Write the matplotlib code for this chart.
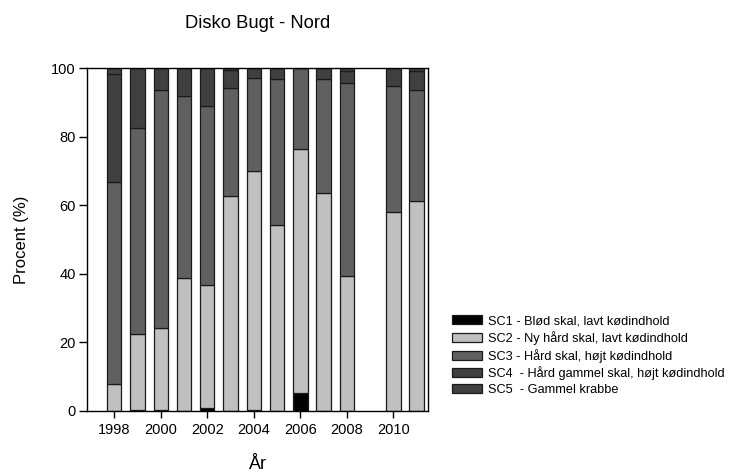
import matplotlib
matplotlib.use("Agg")
import matplotlib.pyplot as plt
import numpy as np

plt.rcParams['font.family'] = ['Liberation Sans', 'DejaVu Sans']

years = [1998, 1999, 2000, 2001, 2002, 2003, 2004, 2005, 2006, 2007, 2008, 2010, 2011]
sc1 = [0.0, 0.3, 0.3, 0.0, 0.9, 0.0, 0.3, 0.0, 5.3, 0.0, 0.0, 0.0, 0.0]
sc2 = [7.8, 22.1, 23.9, 38.9, 35.9, 62.8, 69.8, 54.2, 71.0, 63.5, 39.5, 57.9, 61.3]
sc3 = [59.0, 60.2, 69.4, 53.0, 52.1, 31.4, 27.0, 42.5, 23.7, 33.3, 56.2, 36.9, 32.2]
sc4 = [31.5, 17.4, 6.4, 8.1, 11.1, 5.2, 2.9, 3.3, 0.0, 3.2, 3.5, 5.2, 5.6]
sc5 = [1.7, 0.0, 0.0, 0.0, 0.0, 0.6, 0.0, 0.0, 0.0, 0.0, 0.8, 0.0, 0.9]

labels = ["SC1 - Blød skal, lavt kødindhold",
          "SC2 - Ny hård skal, lavt kødindhold",
          "SC3 - Hård skal, højt kødindhold",
          "SC4  - Hård gammel skal, højt kødindhold",
          "SC5  - Gammel krabbe"]
colors = ["#000000", "#c0c0c0", "#606060", "#404040", "#404040"]

fig = plt.figure(figsize=(7.34, 4.75), dpi=100)
ax = fig.add_axes([87/734, 1-411/475, (428-87)/734, (411-68)/475])

series = [sc1, sc2, sc3, sc4, sc5]
bottom = np.zeros(len(years))
for vals, col, lab in zip(series, colors, labels):
    ax.bar(years, vals, width=0.62, bottom=bottom, color=col,
           edgecolor="#1a1a1a", linewidth=0.9, label=lab)
    bottom += np.array(vals)

ax.set_xlim(1996.83, 2011.49)
ax.set_ylim(0, 100)
ax.set_xticks(range(1998, 2011, 2))
ax.set_yticks(range(0, 101, 20))
ax.tick_params(axis='y', direction='out', length=6, width=1, pad=2, labelsize=10.5)
ax.tick_params(axis='x', direction='out', length=5, width=1, pad=4, labelsize=10.5)
for s in ax.spines.values():
    s.set_linewidth(1)

ax.set_ylabel("Procent (%)", fontsize=12, labelpad=16)
ax.set_xlabel("År", fontsize=13, labelpad=13.5)
fig.text(257.5/734, 1-24/475, "Disko Bugt - Nord", ha='center', va='center', fontsize=13.2)

fig.legend(loc='upper left', bbox_to_anchor=(452/734, 1-315/475), frameon=False,
           fontsize=9.2, borderpad=0, borderaxespad=0, handlelength=2.35,
           handleheight=0.7, handletextpad=0.5, labelspacing=0.3)

fig.savefig("out.png", dpi=100)
